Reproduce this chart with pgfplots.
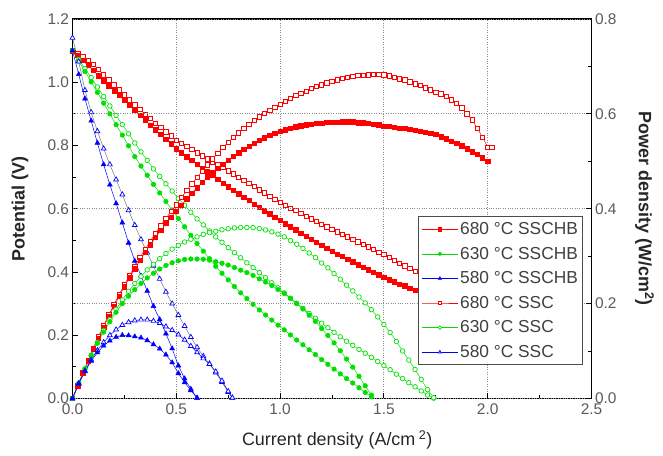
\documentclass[border=0pt]{standalone}
\usepackage{fontspec}
\setmainfont{Liberation Sans}
\usepackage{pgfplots}
\usepackage{pgfplotstable}
\pgfplotsset{compat=1.18}
\definecolor{cR}{HTML}{FF0000}
\definecolor{cG}{HTML}{00E000}
\definecolor{cB}{HTML}{0000FF}
\definecolor{tk}{HTML}{5A5A5A}

% 680 C SSC (open red)
\pgfplotstableread{
i V P
0.000 1.100 0.0000
0.025 1.092 0.0273
0.050 1.082 0.0541
0.075 1.070 0.0803
0.100 1.056 0.1056
0.125 1.040 0.1300
0.150 1.024 0.1536
0.175 1.008 0.1764
0.200 0.992 0.1984
0.225 0.976 0.2196
0.250 0.960 0.2400
0.275 0.944 0.2596
0.300 0.929 0.2787
0.325 0.914 0.2971
0.350 0.899 0.3147
0.375 0.885 0.3319
0.400 0.871 0.3484
0.425 0.857 0.3642
0.450 0.843 0.3794
0.475 0.830 0.3943
0.500 0.817 0.4085
0.525 0.807 0.4237
0.550 0.797 0.4384
0.575 0.787 0.4525
0.600 0.777 0.4662
0.625 0.767 0.4794
0.650 0.758 0.4927
0.675 0.748 0.5049
0.700 0.739 0.5173
0.725 0.730 0.5293
0.750 0.720 0.5400
0.775 0.710 0.5503
0.800 0.700 0.5600
0.825 0.690 0.5693
0.850 0.680 0.5780
0.875 0.670 0.5863
0.900 0.660 0.5940
0.925 0.650 0.6013
0.950 0.640 0.6080
0.975 0.630 0.6143
1.000 0.620 0.6200
1.025 0.611 0.6263
1.050 0.602 0.6321
1.075 0.594 0.6386
1.100 0.585 0.6435
1.125 0.576 0.6480
1.150 0.568 0.6532
1.175 0.560 0.6580
1.200 0.551 0.6612
1.225 0.543 0.6652
1.250 0.535 0.6688
1.275 0.527 0.6719
1.300 0.519 0.6747
1.325 0.511 0.6771
1.350 0.503 0.6791
1.375 0.495 0.6806
1.400 0.487 0.6818
1.425 0.479 0.6826
1.450 0.471 0.6830
1.475 0.463 0.6829
1.500 0.455 0.6825
1.525 0.446 0.6802
1.550 0.437 0.6774
1.575 0.428 0.6741
1.600 0.420 0.6720
1.625 0.411 0.6679
1.650 0.402 0.6633
1.675 0.394 0.6600
1.700 0.385 0.6545
1.725 0.377 0.6503
1.750 0.369 0.6458
1.775 0.362 0.6426
1.800 0.354 0.6372
1.825 0.345 0.6296
1.850 0.336 0.6216
1.875 0.327 0.6131
1.900 0.316 0.6004
1.925 0.305 0.5871
1.950 0.292 0.5694
1.975 0.279 0.5510
2.000 0.265 0.5300
2.020 0.262 0.5292
}\tabRo

% 680 C SSCHB (filled red)
\pgfplotstableread{
i V P
0.000 1.100 0.0000
0.025 1.085 0.0271
0.050 1.069 0.0535
0.075 1.053 0.0790
0.100 1.037 0.1037
0.125 1.021 0.1276
0.150 1.005 0.1508
0.175 0.989 0.1731
0.200 0.973 0.1946
0.225 0.958 0.2156
0.250 0.943 0.2358
0.275 0.927 0.2549
0.300 0.912 0.2736
0.325 0.896 0.2912
0.350 0.881 0.3084
0.375 0.865 0.3244
0.400 0.850 0.3400
0.425 0.835 0.3549
0.450 0.820 0.3690
0.475 0.805 0.3824
0.500 0.790 0.3950
0.525 0.777 0.4079
0.550 0.765 0.4208
0.575 0.753 0.4330
0.600 0.741 0.4446
0.625 0.729 0.4556
0.650 0.717 0.4661
0.675 0.705 0.4759
0.700 0.693 0.4851
0.725 0.681 0.4937
0.750 0.670 0.5025
0.775 0.659 0.5107
0.800 0.648 0.5184
0.825 0.637 0.5255
0.850 0.626 0.5321
0.875 0.615 0.5381
0.900 0.605 0.5445
0.925 0.594 0.5495
0.950 0.584 0.5548
0.975 0.573 0.5587
1.000 0.563 0.5630
1.025 0.553 0.5668
1.050 0.543 0.5702
1.075 0.533 0.5730
1.100 0.523 0.5753
1.125 0.513 0.5771
1.150 0.503 0.5785
1.175 0.494 0.5805
1.200 0.484 0.5808
1.225 0.475 0.5819
1.250 0.466 0.5825
1.275 0.457 0.5827
1.300 0.449 0.5837
1.325 0.440 0.5830
1.350 0.432 0.5832
1.375 0.423 0.5816
1.400 0.415 0.5810
1.425 0.407 0.5800
1.450 0.399 0.5786
1.475 0.391 0.5767
1.500 0.383 0.5745
1.525 0.376 0.5734
1.550 0.369 0.5720
1.575 0.362 0.5702
1.600 0.356 0.5696
1.625 0.349 0.5671
1.650 0.343 0.5660
1.675 0.336 0.5628
1.700 0.330 0.5610
1.725 0.324 0.5589
1.750 0.318 0.5565
1.775 0.311 0.5520
1.800 0.304 0.5472
1.825 0.297 0.5420
1.850 0.291 0.5384
1.875 0.284 0.5325
1.900 0.277 0.5263
1.925 0.270 0.5198
1.950 0.264 0.5148
1.975 0.257 0.5076
2.000 0.250 0.5000
}\tabRf

% 630 C SSC (open green)
\pgfplotstableread{
i V P
0.00 1.100 0.0000
0.03 1.072 0.0322
0.06 1.043 0.0626
0.09 1.015 0.0914
0.12 0.985 0.1182
0.15 0.955 0.1433
0.18 0.925 0.1665
0.21 0.895 0.1880
0.24 0.866 0.2078
0.27 0.837 0.2260
0.30 0.808 0.2424
0.33 0.780 0.2574
0.36 0.753 0.2711
0.39 0.726 0.2831
0.42 0.702 0.2948
0.45 0.679 0.3056
0.48 0.656 0.3149
0.51 0.633 0.3228
0.54 0.611 0.3299
0.57 0.589 0.3357
0.60 0.568 0.3408
0.63 0.549 0.3459
0.66 0.530 0.3498
0.69 0.511 0.3526
0.72 0.494 0.3557
0.75 0.477 0.3578
0.78 0.461 0.3596
0.81 0.445 0.3605
0.84 0.429 0.3604
0.87 0.414 0.3602
0.90 0.398 0.3582
0.93 0.382 0.3553
0.96 0.366 0.3514
0.99 0.350 0.3465
1.02 0.334 0.3407
1.05 0.317 0.3329
1.08 0.301 0.3251
1.11 0.285 0.3164
1.14 0.269 0.3067
1.17 0.254 0.2972
1.20 0.238 0.2856
1.23 0.224 0.2755
1.26 0.209 0.2633
1.29 0.195 0.2516
1.32 0.181 0.2389
1.35 0.168 0.2268
1.38 0.155 0.2139
1.41 0.143 0.2016
1.44 0.130 0.1872
1.47 0.117 0.1720
1.50 0.104 0.1560
1.53 0.091 0.1392
1.56 0.077 0.1201
1.59 0.063 0.1002
1.62 0.050 0.0810
1.65 0.037 0.0611
1.68 0.024 0.0403
1.71 0.011 0.0188
1.74 0.001 0.0017
}\tabGo

% 630 C SSCHB (filled green)
\pgfplotstableread{
i V P
0.00 1.100 0.0000
0.03 1.067 0.0320
0.06 1.034 0.0620
0.09 1.001 0.0901
0.12 0.968 0.1162
0.15 0.934 0.1401
0.18 0.900 0.1620
0.21 0.866 0.1819
0.24 0.833 0.1999
0.27 0.799 0.2157
0.30 0.765 0.2295
0.33 0.735 0.2426
0.36 0.706 0.2542
0.39 0.677 0.2640
0.42 0.650 0.2730
0.45 0.623 0.2804
0.48 0.596 0.2861
0.51 0.569 0.2902
0.54 0.543 0.2932
0.57 0.516 0.2941
0.60 0.490 0.2940
0.63 0.466 0.2936
0.66 0.442 0.2917
0.69 0.418 0.2884
0.72 0.396 0.2851
0.75 0.375 0.2813
0.78 0.354 0.2761
0.81 0.334 0.2705
0.84 0.316 0.2654
0.87 0.298 0.2593
0.90 0.280 0.2520
0.93 0.264 0.2455
0.96 0.248 0.2381
0.99 0.232 0.2297
1.02 0.217 0.2213
1.05 0.201 0.2111
1.08 0.185 0.1998
1.11 0.170 0.1887
1.14 0.154 0.1756
1.17 0.139 0.1626
1.20 0.123 0.1476
1.23 0.108 0.1328
1.26 0.093 0.1172
1.29 0.078 0.1006
1.32 0.063 0.0832
1.35 0.049 0.0662
1.38 0.034 0.0469
1.41 0.019 0.0268
1.44 0.005 0.0072
}\tabGf

% 580 C SSC (open blue)
\pgfplotstableread{
i V P
0.00 1.140 0.0000
0.03 1.065 0.0320
0.06 0.975 0.0585
0.09 0.905 0.0815
0.12 0.845 0.1014
0.15 0.790 0.1185
0.18 0.740 0.1332
0.21 0.692 0.1453
0.24 0.645 0.1548
0.27 0.595 0.1607
0.30 0.548 0.1644
0.33 0.503 0.1660
0.36 0.461 0.1660
0.39 0.419 0.1634
0.42 0.378 0.1588
0.45 0.337 0.1517
0.48 0.300 0.1440
0.51 0.264 0.1346
0.54 0.229 0.1237
0.57 0.194 0.1106
0.60 0.162 0.0972
0.63 0.134 0.0844
0.66 0.110 0.0726
0.69 0.082 0.0566
0.72 0.052 0.0374
0.75 0.020 0.0150
0.77 0.002 0.0015
}\tabBo

% 580 C SSCHB (filled blue)
\pgfplotstableread{
i V P
0.00 1.100 0.0000
0.03 1.025 0.0308
0.06 0.948 0.0569
0.09 0.878 0.0790
0.12 0.808 0.0970
0.15 0.740 0.1110
0.18 0.676 0.1217
0.21 0.617 0.1296
0.24 0.556 0.1334
0.27 0.492 0.1328
0.30 0.435 0.1305
0.33 0.388 0.1280
0.36 0.340 0.1224
0.39 0.292 0.1139
0.42 0.250 0.1050
0.45 0.205 0.0923
0.48 0.158 0.0758
0.51 0.104 0.0530
0.54 0.063 0.0340
0.57 0.030 0.0171
0.60 0.002 0.0012
}\tabBf

\pgfplotsset{
  sR/.style={cR, line width=0.5pt, mark=square*, mark size=2.2pt, mark options={solid, fill=cR, line width=0.5pt}},
  oR/.style={cR, line width=0.5pt, mark=square*, mark size=2.2pt, mark options={solid, fill=white, line width=0.7pt}},
  sG/.style={cG, line width=0.5pt, mark=*, mark size=2.3pt, mark options={solid, fill=cG, line width=0.5pt}},
  oG/.style={cG, line width=0.5pt, mark=*, mark size=2.3pt, mark options={solid, fill=white, line width=0.7pt}},
  sB/.style={cB, line width=0.5pt, mark=triangle*, mark size=2.8pt, mark options={solid, fill=cB, line width=0.5pt}},
  oB/.style={cB, line width=0.5pt, mark=triangle*, mark size=2.8pt, mark options={solid, fill=white, line width=0.7pt}},
  common/.style={
    scale only axis, width=519bp, height=379.5bp,
    at={(0,0)}, anchor=south west,
    xmin=0, xmax=2.5,
    axis line style={line width=1.1pt, black},
    every tick/.style={black, line width=1pt},
    major tick length=6bp, minor tick length=3.5bp,
    tick label style={font=\fontsize{15.5}{18}\selectfont, text=tk},
    xticklabel style={yshift=-2bp},
    /pgf/number format/assume math mode=true,
    /pgf/number format/.cd, fixed, fixed zerofill, precision=1,
  },
}

\begin{document}
\begin{tikzpicture}
\useasboundingbox (-72.5bp,-57.5bp) rectangle (590.5bp,398.5bp);
\begin{axis}[common,
  ymin=0, ymax=1.2,
  xtick={0,0.5,1,1.5,2,2.5}, minor x tick num=1,
  ytick={0,0.2,0.4,0.6,0.8,1.0,1.2}, minor y tick num=1,
  xtick pos=left, ytick pos=left,
  xmajorgrids, grid style={dotted, black!45, line width=0.9pt},
  xlabel={Current density (A/cm\textsuperscript{ 2})},
  ylabel={Potential (V)},
  every axis x label/.style={at={(axis description cs:0.51,-0.109)}, anchor=center, font=\fontsize{18}{21}\selectfont, text=black!85},
  every axis y label/.style={at={(axis description cs:-0.101,0.5)}, rotate=90, anchor=center, font=\fontsize{18}{21}\selectfont\bfseries, text=black!85},
]
\addplot[oR] table[x=i, y=V] {\tabRo};
\addplot[sR] table[x=i, y=V] {\tabRf};
\addplot[oG] table[x=i, y=V] {\tabGo};
\addplot[sG] table[x=i, y=V] {\tabGf};
\addplot[oB, draw=black!55, mark options={solid, draw=cB, fill=white, line width=0.7pt}] table[x=i, y=V] {\tabBo};
\addplot[sB] table[x=i, y=V] {\tabBf};
\end{axis}
\begin{axis}[common,
  axis x line=none, axis y line*=right,
  ymin=0, ymax=0.8,
  ytick={0,0.2,0.4,0.6,0.8}, minor y tick num=1,
  ymajorgrids, grid style={dotted, black!45, line width=0.9pt},
  ylabel={Power density (W/cm\textsuperscript{2})},
  every axis y label/.style={at={(axis description cs:1.102,0.5)}, rotate=-90, anchor=center, font=\fontsize{18}{21}\selectfont\bfseries, text=black!85},
  legend image code/.code={\draw[mark repeat=2, mark phase=2, #1, mark size=1.8pt] plot coordinates {(0bp,0bp) (18bp,0bp) (36bp,0bp)};},
  legend cell align=left,
  legend style={at={(axis description cs:0.666,0.481)}, anchor=north west, draw=black!70, line width=1pt, fill=white,
    font=\fontsize{17.4}{20}\selectfont, text=black!75, row sep=7bp, inner xsep=3bp, inner ysep=4bp},
]
\addplot[oR, forget plot] table[x=i, y=P] {\tabRo};
\addplot[sR, forget plot] table[x=i, y=P] {\tabRf};
\addplot[oG, forget plot] table[x=i, y=P] {\tabGo};
\addplot[sG, forget plot] table[x=i, y=P] {\tabGf};
\addplot[oB, forget plot] table[x=i, y=P] {\tabBo};
\addplot[sB, forget plot] table[x=i, y=P] {\tabBf};
\addlegendimage{sR}\addlegendentry{680 °C SSCHB}
\addlegendimage{sG}\addlegendentry{630 °C SSCHB}
\addlegendimage{sB}\addlegendentry{580 °C SSCHB}
\addlegendimage{oR}\addlegendentry{680 °C SSC}
\addlegendimage{oG}\addlegendentry{630 °C SSC}
\addlegendimage{oB}\addlegendentry{580 °C SSC}
\end{axis}
\end{tikzpicture}
\end{document}
